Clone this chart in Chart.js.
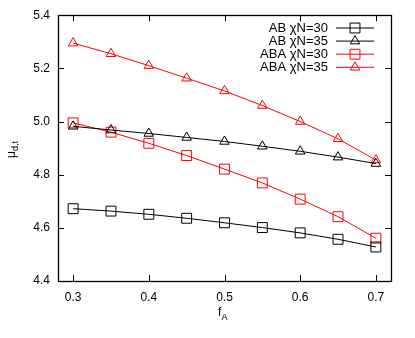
<!DOCTYPE html>
<html>
<head>
<meta charset="utf-8">
<script src="https://cdn.jsdelivr.net/npm/chart.js@4/dist/chart.umd.min.js"></script>
<style>
  html, body { margin: 0; padding: 0; background: #fff; }
  #wrap { width: 415px; height: 338px; }
</style>
</head>
<body>
<div id="wrap"><canvas id="c" width="415" height="338"></canvas></div>
<script>
// データ
const fA = [0.3, 0.35, 0.4, 0.45, 0.5, 0.55, 0.6, 0.65, 0.7]
const ab30 = [4.672, 4.663, 4.651, 4.636, 4.619, 4.601, 4.581, 4.557, 4.528]
const ab35 = [4.982, 4.968, 4.955, 4.940, 4.925, 4.907, 4.888, 4.866, 4.842]
const aba30 = [4.995, 4.960, 4.918, 4.872, 4.821, 4.769, 4.708, 4.642, 4.561]
const aba35 = [5.295, 5.255, 5.210, 5.163, 5.115, 5.060, 5.000, 4.935, 4.855]
const seriesNames = ['AB χN=30', 'AB χN=35', 'ABA χN=30', 'ABA χN=35']
const xTicks = [0.3, 0.4, 0.5, 0.6, 0.7]
const yTicks = [4.4, 4.6, 4.8, 5.0, 5.2, 5.4]

const FONT = '"Liberation Sans", Arial, sans-serif'

function ds(label, ys, color, shape) {
	return {
		label: label,
		data: fA.map((x, i) => ({ x: x, y: ys[i] })),
		borderColor: color,
		backgroundColor: 'transparent',
		borderWidth: 1,
		pointStyle: shape,
		pointRadius: shape === 'rect' ? 7 : 5.5,
		pointBorderColor: color,
		pointBackgroundColor: 'transparent',
		pointBorderWidth: 1,
		tension: 0
	}
}

// 枠・内向き目盛・凡例・軸タイトル
const decor = {
	id: 'decor',
	afterDraw(chart) {
		const ctx = chart.ctx
		const a = chart.chartArea
		const xs = chart.scales.x, ys = chart.scales.y
		ctx.save()
		ctx.strokeStyle = '#000'
		ctx.lineWidth = 1
		ctx.beginPath()
		xTicks.forEach(v => {
			const p = Math.round(xs.getPixelForValue(v)) + 0.5
			ctx.moveTo(p, a.bottom); ctx.lineTo(p, a.bottom - 6)
			ctx.moveTo(p, a.top); ctx.lineTo(p, a.top + 6)
		})
		yTicks.forEach(v => {
			const p = Math.round(ys.getPixelForValue(v)) + 0.5
			ctx.moveTo(a.left, p); ctx.lineTo(a.left + 6, p)
			ctx.moveTo(a.right, p); ctx.lineTo(a.right - 6, p)
		})
		ctx.stroke()
		ctx.lineWidth = 1.3
		ctx.strokeRect(Math.round(a.left) + 0.5, Math.round(a.top) + 0.5,
			Math.round(a.right - a.left), Math.round(a.bottom - a.top))

		// 凡例
		ctx.font = '13px ' + FONT
		ctx.textBaseline = 'middle'
		chart.data.datasets.forEach((d, i) => {
			const yy = a.top + 12.8 + i * 13.1
			ctx.fillStyle = '#000'
			ctx.textAlign = 'right'
			ctx.fillText(d.label, a.right - 63, yy)
			ctx.strokeStyle = d.borderColor
			ctx.lineWidth = 1
			ctx.beginPath()
			ctx.moveTo(a.right - 55, yy); ctx.lineTo(a.right - 17, yy)
			ctx.stroke()
			ctx.fillStyle = 'rgba(0,0,0,0)'
			Chart.helpers.drawPoint(ctx, {
				pointStyle: d.pointStyle, radius: d.pointRadius, borderWidth: 1, rotation: 0
			}, a.right - 36, yy)
		})

		// 軸タイトル
		ctx.fillStyle = '#000'
		ctx.textAlign = 'left'
		ctx.textBaseline = 'alphabetic'
		ctx.font = '12px ' + FONT
		ctx.fillText('f', 218, 316)
		ctx.font = '9px ' + FONT
		ctx.fillText('A', 221.5, 320)

		ctx.translate(15, 148)
		ctx.rotate(-Math.PI / 2)
		ctx.font = '12px ' + FONT
		ctx.fillText('μ', -10, 0)
		ctx.font = '9px ' + FONT
		ctx.fillText('d,t', -3, 3)
		ctx.restore()
	}
}

new Chart(document.getElementById('c'), {
	type: 'line',
	data: {
		datasets: [
			ds(seriesNames[0], ab30, '#000000', 'rect'),
			ds(seriesNames[1], ab35, '#000000', 'triangle'),
			ds(seriesNames[2], aba30, '#ff0000', 'rect'),
			ds(seriesNames[3], aba35, '#ff0000', 'triangle')
		]
	},
	options: {
		responsive: false,
		animation: false,
		layout: { padding: { top: 15, right: 24, left: 0, bottom: 0 } },
		plugins: { legend: { display: false }, tooltip: { enabled: false } },
		scales: {
			x: {
				type: 'linear',
				min: 0.28, max: 0.72,
				afterBuildTicks: s => { s.ticks = xTicks.map(v => ({ value: v })) },
				afterFit: s => { s.height = 57 },
				grid: { display: false, drawTicks: false },
				border: { display: false },
				ticks: {
					padding: 9, color: '#000',
					font: { family: FONT, size: 12 },
					callback: v => v.toFixed(1)
				}
			},
			y: {
				min: 4.4, max: 5.4,
				afterBuildTicks: s => { s.ticks = yTicks.map(v => ({ value: v })) },
				afterFit: s => { s.width = 58 },
				grid: { display: false, drawTicks: false },
				border: { display: false },
				ticks: {
					padding: 8, color: '#000',
					font: { family: FONT, size: 12 },
					callback: v => v.toFixed(1)
				}
			}
		}
	},
	plugins: [decor]
})
</script>
</body>
</html>
